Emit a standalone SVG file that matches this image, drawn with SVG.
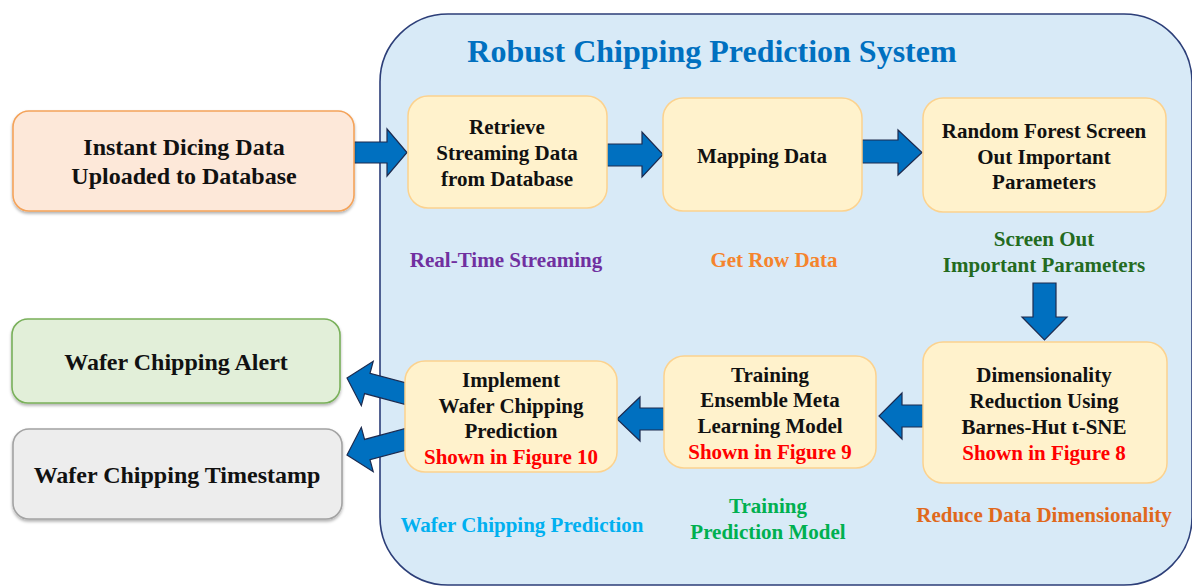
<svg xmlns="http://www.w3.org/2000/svg" width="1192" height="586" viewBox="0 0 1192 586">
  <defs>
    <filter id="shadow" x="-10%" y="-10%" width="120%" height="130%">
      <feDropShadow dx="0" dy="2" stdDeviation="1.6" flood-color="#000" flood-opacity="0.3"/>
    </filter>
  </defs>
  <style>
    text { font-family: "Liberation Serif", "Times New Roman", serif; font-weight: bold; text-anchor: middle; }
    .t { font-size: 21px; fill: #111; }
    .big { font-size: 24px; fill: #111; }
    .red { fill: #ff0000; }
    .lbl { font-size: 21px; }
    .step { fill: #fff2cc; stroke: #fcd28e; stroke-width: 1.5; }
    .arrow { fill: #0070c0; stroke: #1d2b4f; stroke-width: 1.2; stroke-linejoin: miter; }
  </style>

  <!-- system container -->
  <g id="system">
    <rect x="380" y="14" width="812" height="571" rx="68" ry="68" fill="#d8eaf7" stroke="#2c3e78" stroke-width="1.6"/>
    <text x="712" y="62" font-size="32" fill="#0070c0">Robust Chipping Prediction System</text>
  </g>

  <!-- connectors -->
  <g id="connectors">
    <polygon class="arrow" points="354,142 387,142 387,129 407,152.5 387,176 387,163 354,163"/>
    <polygon class="arrow" points="607,144 642,144 642,132 663,154.5 642,177 642,166 607,166"/>
    <polygon class="arrow" points="862,140 898,140 898,130 922,152.5 898,175 898,163 862,163"/>
    <polygon class="arrow" points="1033,283 1056,283 1056,317 1067,317 1044.5,340 1022,317 1033,317"/>
    <polygon class="arrow" points="923,405 902,405 902,393 879,416 902,439 902,427 923,427"/>
    <polygon class="arrow" points="664,408 640,408 640,397 617,419 640,441 640,430 664,430"/>
    <polygon class="arrow" transform="translate(347,378) rotate(15)" points="0,0 21,-23 21,-10.5 72,-10.5 72,10.5 21,10.5 21,23"/>
    <polygon class="arrow" transform="translate(347,455) rotate(-15)" points="0,0 21,-23 21,-10.5 72,-10.5 72,10.5 21,10.5 21,23"/>
  </g>

  <!-- source -->
  <g id="n-upload">
    <rect x="13" y="111" width="341" height="100" rx="16" fill="#fde8d9" stroke="#f4a35a" stroke-width="1.6" filter="url(#shadow)"/>
    <text class="big" x="184" y="155">Instant Dicing Data</text>
    <text class="big" x="184" y="184">Uploaded to Database</text>
  </g>

  <g id="n-retrieve">
    <rect class="step" x="408" y="96" width="199" height="112" rx="20"/>
    <text class="t" x="507" y="134">Retrieve</text>
    <text class="t" x="507" y="160">Streaming Data</text>
    <text class="t" x="507" y="186">from Database</text>
  </g>

  <g id="n-mapping">
    <rect class="step" x="663" y="98" width="199" height="113" rx="20"/>
    <text class="t" x="762" y="163">Mapping Data</text>
  </g>

  <g id="n-forest">
    <rect class="step" x="923" y="98" width="243" height="114" rx="20"/>
    <text class="t" x="1044" y="138">Random Forest Screen</text>
    <text class="t" x="1044" y="164">Out Important</text>
    <text class="t" x="1044" y="189">Parameters</text>
  </g>

  <g id="n-tsne">
    <rect class="step" x="923" y="342" width="244" height="141" rx="20"/>
    <text class="t" x="1044" y="382">Dimensionality</text>
    <text class="t" x="1044" y="408">Reduction Using</text>
    <text class="t" x="1044" y="434">Barnes-Hut t-SNE</text>
    <text class="t red" x="1044" y="460">Shown in Figure 8</text>
  </g>

  <g id="n-training">
    <rect class="step" x="664" y="356" width="212" height="112" rx="20"/>
    <text class="t" x="770" y="382">Training</text>
    <text class="t" x="770" y="407">Ensemble Meta</text>
    <text class="t" x="770" y="433">Learning Model</text>
    <text class="t red" x="770" y="459">Shown in Figure 9</text>
  </g>

  <g id="n-implement">
    <rect class="step" x="405" y="361" width="212" height="111" rx="20"/>
    <text class="t" x="511" y="387">Implement</text>
    <text class="t" x="511" y="413">Wafer Chipping</text>
    <text class="t" x="511" y="438">Prediction</text>
    <text class="t red" x="511" y="464">Shown in Figure 10</text>
  </g>

  <g id="n-alert">
    <rect x="12" y="319" width="328" height="84" rx="16" fill="#e2efd9" stroke="#79b05a" stroke-width="1.6" filter="url(#shadow)"/>
    <text class="big" x="176" y="370">Wafer Chipping Alert</text>
  </g>

  <g id="n-timestamp">
    <rect x="13" y="429" width="329" height="90" rx="16" fill="#ededed" stroke="#a3a3a3" stroke-width="1.6" filter="url(#shadow)"/>
    <text class="big" x="177" y="483">Wafer Chipping Timestamp</text>
  </g>

  <!-- stage labels -->
  <g id="labels">
    <text class="lbl" x="506" y="267" fill="#7030a0">Real-Time Streaming</text>
    <text class="lbl" x="774" y="267" fill="#f5842d">Get Row Data</text>
    <text class="lbl" x="1044" y="246" fill="#246b1f">Screen Out</text>
    <text class="lbl" x="1044" y="272" fill="#246b1f">Important Parameters</text>
    <text class="lbl" x="1044" y="522" fill="#e0691c">Reduce Data Dimensionality</text>
    <text class="lbl" x="768" y="513" fill="#00b050">Training</text>
    <text class="lbl" x="768" y="539" fill="#00b050">Prediction Model</text>
    <text class="lbl" x="522" y="532" fill="#00b0f0">Wafer Chipping Prediction</text>
  </g>
</svg>
